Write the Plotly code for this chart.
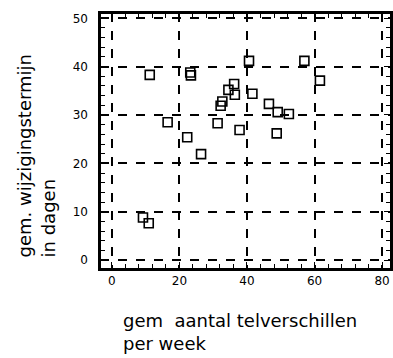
import plotly.graph_objects as go

telverschillen = [11.2, 23.2, 23.4, 16.5, 22.3, 40.6, 57.0, 61.6, 36.2, 34.5, 36.4,
                  41.6, 32.7, 32.2, 46.5, 49.1, 52.4, 31.3, 37.8, 48.8, 26.4, 9.2, 10.9]
wijzigingstermijn = [38.3, 38.8, 38.2, 28.5, 25.4, 41.2, 41.2, 37.1, 36.4, 35.2, 34.2,
                     34.4, 32.8, 31.9, 32.3, 30.6, 30.2, 28.3, 26.9, 26.2, 21.9, 8.8, 7.6]
x_tick_step = 20
y_tick_step = 10
x_minor_step = 4
y_minor_step = 2

FONT = "DejaVu Sans"
X_RANGE = [-3.53, 82.65]
Y_RANGE = [-1.86, 51.1]

fig = go.Figure()
fig.add_trace(go.Scatter(
    x=telverschillen, y=wijzigingstermijn, mode="markers",
    marker=dict(symbol="square-open", size=9, color="black", line=dict(width=1.6, color="black")),
    showlegend=False, hoverinfo="skip"))
# invisible copy on overlay axes that carry the top/right ticks
fig.add_trace(go.Scatter(
    x=telverschillen, y=wijzigingstermijn, mode="markers", xaxis="x2", yaxis="y2",
    marker=dict(size=1, opacity=0), showlegend=False, hoverinfo="skip"))

axis_common = dict(
    tick0=0, tickmode="linear",
    showline=True, linecolor="black", linewidth=2, mirror=True,
    ticks="inside", ticklen=7, tickwidth=1.2, tickcolor="black",
    showgrid=True, gridcolor="black", griddash="dash", gridwidth=1.5, zeroline=False,
    tickfont=dict(family=FONT, size=12, color="black"),
)
overlay_common = dict(
    tick0=0, tickmode="linear", showline=False, mirror=False,
    ticks="inside", ticklen=7, tickwidth=1.2, tickcolor="black",
    showgrid=False, zeroline=False, showticklabels=False,
)

fig.update_layout(
    xaxis=dict(range=X_RANGE, dtick=x_tick_step,
               minor=dict(ticks="inside", ticklen=5, tickcolor="black", dtick=x_minor_step, tickwidth=1),
               **axis_common),
    yaxis=dict(range=Y_RANGE, dtick=y_tick_step, ticksuffix="  ",
               minor=dict(ticks="inside", ticklen=5, tickcolor="black", dtick=y_minor_step, tickwidth=1),
               **axis_common),
    xaxis2=dict(range=X_RANGE, dtick=x_tick_step, overlaying="x", side="top", anchor="y2",
                minor=dict(ticks="inside", ticklen=5, tickcolor="black", dtick=x_minor_step, tickwidth=1),
                **overlay_common),
    yaxis2=dict(range=Y_RANGE, dtick=y_tick_step, overlaying="y", side="right", anchor="x2",
                minor=dict(ticks="inside", ticklen=5, tickcolor="black", dtick=y_minor_step, tickwidth=1),
                **overlay_common),
)

# plot frame
fig.add_shape(type="rect", xref="paper", yref="paper", x0=0, y0=0, x1=1, y1=1,
              line=dict(color="black", width=2), layer="above")

W, H = 393, 358
L, R, T, B = 100, 0, 13, 89
pw, ph = W - L - R, H - T - B

def px(xp):
    return (xp - L) / pw

def py(yp):
    return (H - B - yp) / ph

fig.add_annotation(text="gem  aantal telverschillen<br>per week", xref="paper", yref="paper",
                   x=px(121), y=py(308), xanchor="left", yanchor="top", align="left",
                   showarrow=False, font=dict(family=FONT, size=18, color="black"))
fig.add_annotation(text="gem. wijzigingstermijn<br>in dagen", xref="paper", yref="paper",
                   x=px(36), y=py(156), xanchor="center", yanchor="middle", align="left",
                   textangle=-90, showarrow=False, font=dict(family=FONT, size=18, color="black"))

fig.update_layout(width=W, height=H, margin=dict(l=L, r=R, t=T, b=B),
                  plot_bgcolor="white", paper_bgcolor="white")
fig.write_html("out.html")
